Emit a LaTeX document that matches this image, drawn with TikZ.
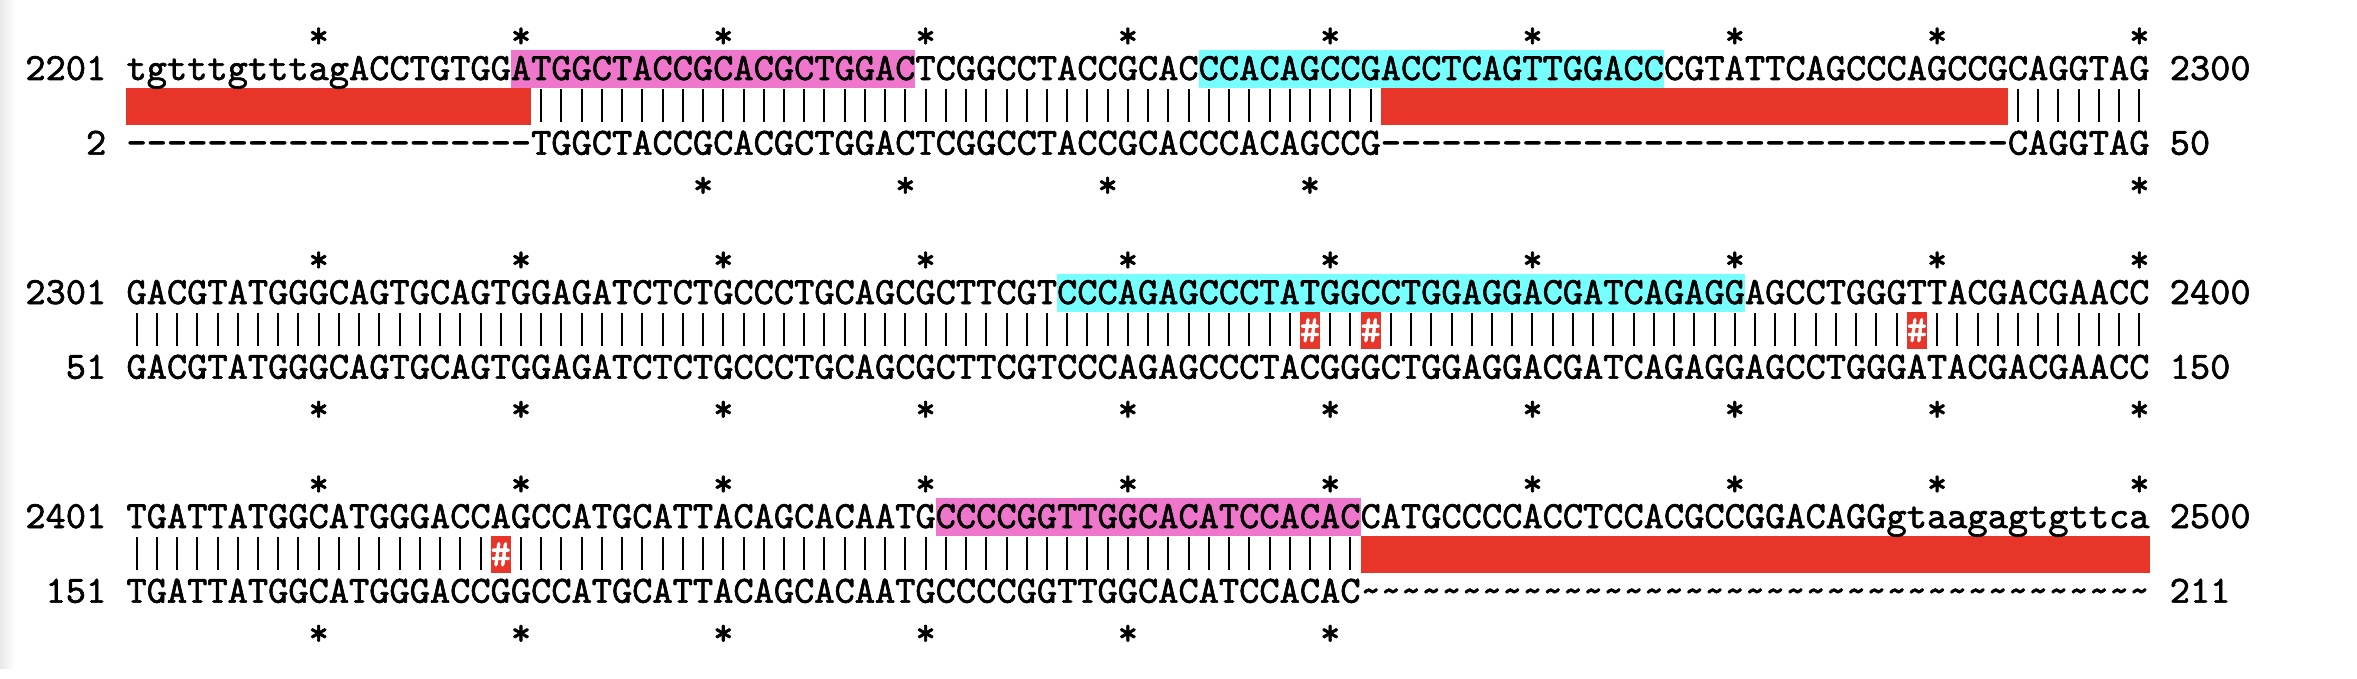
\documentclass[tikz,border=0pt]{standalone}
\usepackage{fontspec}
\usetikzlibrary{positioning}
\newfontfamily\seqtt{lmmono10-regular.otf}[FakeBold=1.6]
\definecolor{primerpink}{HTML}{EE77CC}
\definecolor{primercyan}{HTML}{77FFFF}
\definecolor{gapred}{HTML}{E8352A}
\newlength\colw
\settowidth\colw{\fontsize{20pt}{20pt}\selectfont\seqtt M}
\pgfmathsetmacro\seqsize{20*10.115/\colw}
\newcommand\seqfont{\fontsize{\seqsize pt}{18pt}\selectfont\seqtt}
\newcommand\dashes[1]{\foreach \n in {1,...,#1}{\hbox{-}}}
\newcommand\waves[1]{\foreach \n in {1,...,#1}{\hbox{\char126}}}
\newcommand\bars[3]{\foreach \c in {#2,...,#3} \draw[bar] (\c-0.5,#1+0.04) -- (\c-0.5,#1+0.93);}
\newcommand\gapbox[3]{\fill[gapred] (#2-1,#1) rectangle (#3,#1+1);}

\begin{document}
\begin{tikzpicture}[x=10.115pt,y=-18.667pt,
    seq/.style={font=\seqfont,inner sep=0pt,outer sep=0pt,anchor=base west},
    num/.style={font=\seqfont,inner sep=0pt,outer sep=0pt},
    star/.style={font=\seqfont,inner sep=0pt,anchor=base},
    bar/.style={line width=1pt},
    mis/.style={fill=gapred,text=white,font=\seqfont,inner sep=0pt,
      minimum width=10.115pt,minimum height=18.667pt}]
  \useasboundingbox (-6.253,-0.348) rectangle (110.257,17.814);
  \shade[left color=black!9,right color=white] (-6.253,-0.348) rectangle (-5.5,17.55);

  % 2201-2300 against 2-50
  \fill[primerpink] (19,1) rectangle (39,2);
  \fill[primercyan] (53,1) rectangle (76,2);
  \gapbox{2}{1}{20} \gapbox{2}{63}{93}
  \bars{2}{21}{62} \bars{2}{94}{100}
  \foreach \c in {10,20,...,100} \node[star] (a\c) at (\c-0.5,0.93) {*};
  \node[seq] (top1) at (0,1.795) {tgtttgtttagACCTGTGGATGGCTACCGCACGCTGGACTCGGCCTACCGCACCCACAGCCGACCTCAGTTGGACCCGTATTCAGCCCAGCCGCAGGTAG};
  \node[num,base left=10.115pt of top1] (n2201) {2201};
  \node[num,base right=10.115pt of top1] (n2300) {2300};
  \node[seq] (bot1) at (0,3.795) {\dashes{20}TGGCTACCGCACGCTGGACTCGGCCTACCGCACCCACAGCCG\dashes{31}CAGGTAG};
  \node[num,base left=10.115pt of bot1] (n2) {2};
  \node[num,base right=10.115pt of bot1] (n50) {50};
  \foreach \c in {29,39,49,59,100} \node[star] (b\c) at (\c-0.5,4.93) {*};

  % 2301-2400 against 51-150
  \fill[primercyan] (46,7) rectangle (80,8);
  \bars{8}{1}{58} \bars{8}{60}{61} \bars{8}{63}{88} \bars{8}{90}{100}
  \node[mis] (m59) at (58.5,8.5) {\#};
  \node[mis] (m62) at (61.5,8.5) {\#};
  \node[mis] (m89) at (88.5,8.5) {\#};
  \foreach \c in {10,20,...,100} \node[star] (c\c) at (\c-0.5,6.93) {*};
  \node[seq] (top2) at (0,7.795) {GACGTATGGGCAGTGCAGTGGAGATCTCTGCCCTGCAGCGCTTCGTCCCAGAGCCCTATGGCCTGGAGGACGATCAGAGGAGCCTGGGTTACGACGAACC};
  \node[num,base left=10.115pt of top2] (n2301) {2301};
  \node[num,base right=10.115pt of top2] (n2400) {2400};
  \node[seq] (bot2) at (0,9.795) {GACGTATGGGCAGTGCAGTGGAGATCTCTGCCCTGCAGCGCTTCGTCCCAGAGCCCTACGGGCTGGAGGACGATCAGAGGAGCCTGGGATACGACGAACC};
  \node[num,base left=10.115pt of bot2] (n51) {51};
  \node[num,base right=10.115pt of bot2] (n150) {150};
  \foreach \c in {10,20,...,100} \node[star] (d\c) at (\c-0.5,10.93) {*};

  % 2401-2500 against 151-211
  \fill[primerpink] (40,13) rectangle (61,14);
  \gapbox{14}{62}{100}
  \bars{14}{1}{18} \bars{14}{20}{61}
  \node[mis] (m19) at (18.5,14.5) {\#};
  \foreach \c in {10,20,...,100} \node[star] (e\c) at (\c-0.5,12.93) {*};
  \node[seq] (top3) at (0,13.795) {TGATTATGGCATGGGACCAGCCATGCATTACAGCACAATGCCCCGGTTGGCACATCCACACCATGCCCCACCTCCACGCCGGACAGGgtaagagtgttca};
  \node[num,base left=10.115pt of top3] (n2401) {2401};
  \node[num,base right=10.115pt of top3] (n2500) {2500};
  \node[seq] (bot3) at (0,15.795) {TGATTATGGCATGGGACCGGCCATGCATTACAGCACAATGCCCCGGTTGGCACATCCACAC\waves{39}};
  \node[num,base left=10.115pt of bot3] (n151) {151};
  \node[num,base right=10.115pt of bot3] (n211) {211};
  \foreach \c in {10,20,...,60} \node[star] (f\c) at (\c-0.5,16.93) {*};
\end{tikzpicture}
\end{document}
